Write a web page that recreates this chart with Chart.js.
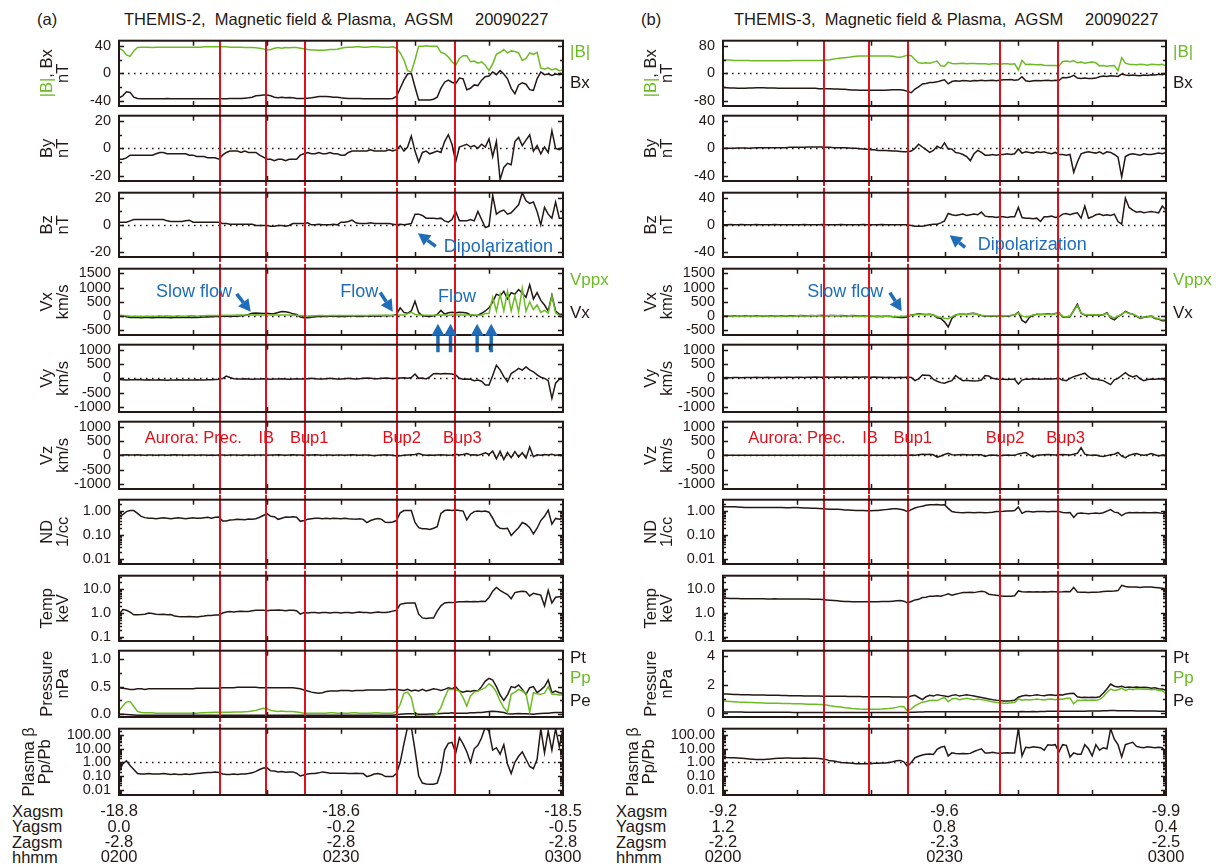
<!DOCTYPE html>
<html>
<head>
<meta charset="utf-8">
<title>THEMIS-2 / THEMIS-3 Magnetic field & Plasma, AGSM 20090227</title>
<script src="https://cdn.jsdelivr.net/npm/chart.js@4.4.1/dist/chart.umd.min.js"></script>
<style>
  html, body { margin: 0; padding: 0; background: #fff; }
  #page { position: relative; width: 1219px; height: 867px; overflow: hidden;
          font-family: "Liberation Sans", Arial, sans-serif; color: #231815; }
  #page canvas { position: absolute; }
  .txt { position: absolute; font-size: 16.5px; white-space: pre; line-height: 20px; }
  .rows { position: absolute; font-size: 16.5px; line-height: 15.3px; white-space: pre; }
</style>
</head>
<body>
<div id="page">
  <div class="txt" style="left:37px;top:9px">(a)</div>
  <div class="txt" style="left:124px;top:9px">THEMIS-2,  Magnetic field &amp; Plasma,  AGSM</div>
  <div class="txt" style="left:475px;top:9px">20090227</div>
  <div class="txt" style="left:641px;top:9px">(b)</div>
  <div class="txt" style="left:734px;top:9px">THEMIS-3,  Magnetic field &amp; Plasma,  AGSM</div>
  <div class="txt" style="left:1085px;top:9px">20090227</div>
  <div class="rows" style="left:12px;top:804px">Xagsm<br>Yagsm<br>Zagsm<br>hhmm</div>
  <div class="rows" style="left:616px;top:804px">Xagsm<br>Yagsm<br>Zagsm<br>hhmm</div>
</div>
<script>
// minutes after 02:00 UT, one sample every 30 s
const TIME = [];
for (let i = 0; i <= 120; i++) TIME.push(i / 2);

// aurora events (minutes after 02:00): Prec., IB, Bup1, Bup2, Bup3
const EVENT_MIN = [13.7, 19.8, 25.1, 37.5, 45.4];
const HOUR_TICKS = [0, 10, 20, 30, 40, 50, 60];
const LABEL_MIN = [0, 30, 60];
const HHMM = ['0200', '0230', '0300'];

// orbit positions at 0200 / 0230 / 0300
const A_XAGSM = ['-18.8', '-18.6', '-18.5'];
const A_YAGSM = ['0.0', '-0.2', '-0.5'];
const A_ZAGSM = ['-2.8', '-2.8', '-2.8'];
const B_XAGSM = ['-9.2', '-9.6', '-9.9'];
const B_YAGSM = ['1.2', '0.8', '0.4'];
const B_ZAGSM = ['-2.2', '-2.3', '-2.5'];

// ---------- THEMIS-2 (a) ----------
const A_BT = [37, 34, 27, 25, 33, 38, 38.5, 38.5, 38.5, 38, 38.5, 38.5, 38.5, 38.5, 38.5, 38.5, 38.5, 38.5, 38.5, 38.5,
  38.5, 38.5, 38.5, 39, 39, 39, 39, 39, 39, 39, 38.5, 38.5, 38.5, 38.5, 38, 38, 38, 37.5, 37, 36,
  34.5, 35, 37, 38, 37, 38, 37.5, 38, 38, 37, 36, 35, 34.5, 34.5, 34, 34, 34.5, 35, 35, 35.5,
  37, 38, 38.5, 38.5, 39, 39, 38.5, 38.5, 39, 39, 39, 38.5, 38.5, 38.5, 39, 37, 30, 20, 4, 2,
  20, 40, 40, 40.5, 40, 40, 40, 31, 29, 24, 17, 12, 22, 26, 26, 17, 18, 15, 17, 12,
  4, 14, 28, 31, 35, 30, 33, 32, 30, 19, 22, 30, 28, 31, 8, 6, 8, 5, 7, 4,
  5];
const A_BX = [-36, -33, -27, -28, -35, -37, -37.5, -37.5, -37.5, -37.5, -37.5, -37.5, -37.5, -37, -37.5, -37.5, -37.5, -37.5, -37.5, -37.5,
  -37.5, -37.5, -37.5, -37.5, -37.5, -37.5, -37.5, -37.5, -37.5, -37.5, -37, -37, -37, -37, -36.5, -36, -35, -33, -32.5, -32,
  -32, -33, -35, -36, -35, -36, -35.5, -36, -37, -37, -37, -36.5, -36, -35, -34, -34, -34, -34.5, -35, -35,
  -36, -36.5, -37, -37, -37, -37, -37.5, -37.5, -37.5, -37.5, -37.5, -37.5, -37.5, -37.5, -37, -34, -22, -10, -1, 0,
  -20, -39, -39, -39, -39, -38, -35, -22, -13, -10, -13, -15, -7, -8, -24, -22, -17, -18, -10, -5,
  -4, 2, -2, 4, -1, -8, -22, -30, -17, -14, -16, -24, -25, -8, 2, -2, -1, -3, -1, -2,
  -1];
const A_BY = [-8, -8, -7, -5, -5, -5, -5, -5, -5, -5, -4, -3, -3, -4, -4, -4, -4, -4, -4, -5,
  -5, -6, -6, -6, -7, -7, -7, -8, -5, -3, -2, -2, -2, -3, -2, -3, -3, -3, -5, -6.5,
  -8, -8, -9, -8, -8, -9, -8, -8, -8, -5, -4, -3, -4, -4, -3, -4, -4, -3, -4, -4,
  -5, -5, -3, -2, -2, -2, -2, -2, -1, -2, -2, -2, -2, -1, -2, -1, 2, -2, 1, 9,
  -2, -10, -3, -2, -4, -3, -2, -3, 5, 10, 3, -10, 1, 2, 3, 1, 2, 0, 3, 1,
  7, -6, 5, -23, -14, -11, -12, 5, 8, 2, 6, 10, -2, 2, -4, 1, -3, 13, 0, -1,
  1];
const A_BZ = [2, 2, 2, 3, 4, 4, 4, 4, 4, 4, 4, 4, 4, 3, 2.5, 2.5, 2.5, 2.5, 3, 3.5,
  2, 2, 2, 2, 2, 2, 2, 2, 1, 1, 0.5, 0.5, 0.5, 0.5, 0.5, 0.5, 0.5, -0.5, -0.5, -0.5,
  -0.5, -1, -1, -0.5, -0.5, -1, -0.5, 1, 1, 1, 1, 1.5, 0, 0, 0.5, 0, 0, 0, 0.5, 0,
  2, 2, 2.5, 3.5, 1.5, 1, 1, 1, 1.5, 1, 1, 1, 1, 1, 0.5, 0, 0.5, 0, 0.5, 1,
  8, 8, 7, 5, 5, 5, 4.5, 5, 3, 2, 4, 10, 3, 3, 3, 4, 3, 10, 4, -2,
  -1, 22, 8, 10, 11, 8, 9, 12, 15, 24, 18, 16, 17, 10, 0, 13, 8, 5, 17, 5,
  5];
const A_VX = [20, 10, -20, -50, -50, -50, -60, -50, -50, -60, -50, -50, -40, -50, -60, -50, -50, -50, -40, -50,
  -40, -50, -40, -30, -30, -20, -10, -10, 0, 0, -10, 0, 0, 10, 20, 60, 100, 110, 100, 90,
  100, 80, 90, 130, 160, 150, 130, 80, 60, -30, -60, -60, -40, -20, -10, 0, -10, 0, 0, -10,
  0, -10, 0, 10, 0, -10, 0, 10, 0, 10, 0, 10, 20, 10, 20, 60, 290, 130, 100, 180,
  520, 120, 20, 0, -10, 10, 60, 200, 70, 120, 140, 120, 140, 130, 110, 40, 20, 30, 100, 180,
  290, 500, 770, 710, 870, 600, 820, 770, 930, 800, 660, 1100, 600, 820, 550, 390, 180, 730, 180, 75,
  60];
const A_VPX = [20, 20, 10, 0, 0, 0, -10, 0, 0, 0, 0, 10, 0, 10, 0, 0, 10, 0, 0, 10,
  10, 0, 10, 10, 20, 20, 20, 20, 30, 30, 30, 30, 40, 40, 40, 40, 40, 50, 40, 40,
  40, 40, 40, 40, 40, 40, 40, 30, 30, 20, 10, 0, 10, 10, 20, 20, 10, 20, 20, 20,
  20, 20, 20, 20, 20, 20, 20, 20, 30, 30, 30, 30, 30, 30, 30, 30, 40, 40, 80, 130,
  60, 40, 40, 30, 30, 30, 40, 40, 40, 30, 40, 40, 40, 40, 40, 40, 40, 30, 40, 90,
  90, 660, 180, 770, 180, 870, 180, 710, 150, 980, 170, 500, 230, 390, 130, 200, 110, 700, 120, 20,
  20];
const A_VY = [-40, -50, -60, -50, -50, -40, -50, -60, -50, -60, -60, -50, -60, -70, -60, -60, -50, -60, -60, -60,
  -60, -50, -60, -60, -50, -50, -40, -30, -10, 80, 30, -10, -20, -20, -10, -20, -30, -20, -20, -10,
  -20, -30, -20, -20, -10, -20, -30, -20, -10, -20, -20, -10, 0, -10, -20, -20, -10, 0, -10, -20,
  -20, -10, 0, -10, -20, -10, 0, 10, 0, -10, -10, 0, 10, 0, -10, 0, 10, 20, 0, 30,
  150, 0, 10, -20, 50, 160, 170, 150, 170, 160, 150, 120, 0, -30, -20, -30, -80, -60, -100, -230,
  -230, 100, 460, 300, 60, -120, 170, 250, 350, 290, 400, 300, 230, 120, 40, 0, -80, -700, -170, -30,
  -20];
const A_VZ = [0, 10, 20, 10, 10, 20, 10, 0, 10, 10, 0, 10, 10, 0, 10, 20, 10, 10, 0, 10,
  10, 0, 10, 10, 0, 10, 0, 10, 10, 0, 10, 10, 10, 0, 10, 10, 0, 10, 10, 10,
  0, 10, 10, 20, 10, 0, 10, 20, 10, 10, 0, 10, 10, 20, 10, 0, 10, 10, 0, 10,
  10, 0, 10, 20, 10, 0, 10, 10, 0, -10, 0, 10, 20, 10, 0, -20, -10, 0, 10, 20,
  30, 60, 20, 0, 10, 0, 10, 20, 10, 0, 10, 40, 10, 30, 60, 10, 20, 0, 40, 90,
  30, 150, -120, 140, -150, 100, -80, 130, -60, 90, -100, 290, -50, 20, 0, 30, 10, 40, 0, 20,
  10];
const A_ND = [0.56, 0.7, 0.95, 1.05, 1.05, 0.8, 0.6, 0.53, 0.5, 0.5, 0.48, 0.5, 0.52, 0.5, 0.48, 0.5, 0.52, 0.5, 0.48, 0.5,
  0.52, 0.5, 0.5, 0.53, 0.55, 0.5, 0.55, 0.56, 0.38, 0.38, 0.42, 0.43, 0.45, 0.44, 0.43, 0.46, 0.45, 0.48, 0.55, 0.65,
  0.78, 0.6, 0.58, 0.45, 0.5, 0.56, 0.55, 0.58, 0.55, 0.37, 0.4, 0.45, 0.48, 0.5, 0.5, 0.48, 0.5, 0.48, 0.5, 0.49,
  0.48, 0.5, 0.48, 0.47, 0.45, 0.48, 0.45, 0.33, 0.4, 0.45, 0.49, 0.45, 0.34, 0.33, 0.35, 0.4, 0.85, 1.05, 1.05, 1.05,
  0.33, 0.2, 0.18, 0.18, 0.17, 0.19, 0.22, 0.8, 1.05, 1.1, 1.05, 1.1, 1.05, 1.0, 0.43, 0.74, 0.95, 1.0, 0.95, 1.0,
  0.9, 0.5, 0.25, 0.19, 0.18, 0.19, 0.095, 0.14, 0.2, 0.33, 0.28, 0.2, 0.11, 0.19, 0.4, 0.6, 1.1, 0.28, 0.49, 0.45,
  0.5];
const A_TEMP = [0.87, 1.4, 1.3, 1.1, 0.85, 0.85, 0.87, 0.9, 1.0, 0.95, 0.9, 0.88, 0.9, 0.85, 0.87, 0.75, 0.72, 0.7, 0.7, 0.72,
  0.7, 0.68, 0.72, 0.75, 0.8, 0.8, 0.83, 0.83, 1.0, 1.1, 1.15, 1.1, 1.15, 1.2, 1.15, 1.15, 1.25, 1.3, 1.3, 1.3,
  1.25, 1.3, 1.3, 1.35, 1.3, 1.25, 1.3, 1.3, 1.25, 0.9, 1.05, 1.0, 1.05, 1.05, 1.0, 1.05, 1.05, 1.0, 1.05, 1.05,
  1.0, 1.05, 1.05, 1.0, 1.05, 1.1, 1.05, 1.05, 1.0, 1.05, 1.1, 1.05, 1.05, 1.1, 1.2, 1.3, 2.3, 2.5, 2.6, 2.6,
  2.6, 0.9, 0.63, 0.6, 0.63, 0.62, 1.2, 2.0, 2.6, 2.7, 2.7, 2.8, 2.9, 2.9, 3.0, 2.9, 3.0, 2.95, 3.1, 3.0,
  4.4, 8.0, 11.4, 8.7, 7.0, 5.8, 3.9, 7.0, 7.6, 8.0, 7.6, 5.1, 6.6, 6.0, 5.5, 2.0, 8.7, 2.6, 4.5, 4.7,
  4.7];
const A_PT = [0.48, 0.47, 0.46, 0.45, 0.45, 0.46, 0.46, 0.45, 0.46, 0.46, 0.46, 0.46, 0.46, 0.46, 0.46, 0.46, 0.46, 0.46, 0.46, 0.46,
  0.46, 0.47, 0.47, 0.47, 0.47, 0.47, 0.47, 0.47, 0.48, 0.48, 0.48, 0.48, 0.49, 0.49, 0.49, 0.49, 0.49, 0.49, 0.48, 0.48,
  0.48, 0.48, 0.48, 0.48, 0.48, 0.48, 0.48, 0.48, 0.47, 0.46, 0.44, 0.42, 0.4, 0.39, 0.38, 0.39, 0.41, 0.42, 0.42, 0.42,
  0.43, 0.43, 0.43, 0.42, 0.43, 0.43, 0.43, 0.44, 0.44, 0.44, 0.44, 0.44, 0.44, 0.45, 0.45, 0.45, 0.44, 0.43, 0.45, 0.42,
  0.44, 0.42, 0.45, 0.42, 0.44, 0.46, 0.45, 0.43, 0.45, 0.48, 0.46, 0.5, 0.42, 0.4, 0.42, 0.41, 0.43, 0.42, 0.5, 0.6,
  0.65, 0.62, 0.5, 0.35, 0.25, 0.35, 0.5, 0.48, 0.53, 0.45, 0.36, 0.48, 0.5, 0.39, 0.44, 0.5, 0.62, 0.39, 0.42, 0.39,
  0.38];
const A_PP = [0.06, 0.15, 0.22, 0.23, 0.14, 0.05, 0.03, 0.025, 0.025, 0.025, 0.02, 0.02, 0.02, 0.02, 0.02, 0.02, 0.02, 0.02, 0.02, 0.02,
  0.02, 0.02, 0.025, 0.025, 0.03, 0.03, 0.035, 0.035, 0.035, 0.035, 0.035, 0.04, 0.04, 0.04, 0.045, 0.05, 0.06, 0.07, 0.09, 0.11,
  0.1, 0.07, 0.06, 0.05, 0.06, 0.05, 0.05, 0.05, 0.04, 0.03, 0.02, 0.02, 0.02, 0.02, 0.02, 0.02, 0.02, 0.025, 0.025, 0.02,
  0.02, 0.02, 0.02, 0.025, 0.025, 0.02, 0.02, 0.02, 0.02, 0.025, 0.025, 0.02, 0.02, 0.02, 0.02, 0.05, 0.18, 0.38, 0.4, 0.3,
  0.0, -0.03, -0.03, -0.03, -0.03, -0.03, 0.02, 0.12, 0.3, 0.45, 0.45, 0.44, 0.42, 0.3, 0.15, 0.33, 0.4, 0.42, 0.45, 0.48,
  0.55, 0.5, 0.4, 0.24, 0.12, 0.035, 0.36, 0.4, 0.45, 0.42, 0.38, 0.035, 0.39, 0.37, 0.36, 0.38, 0.5, 0.36, 0.36, 0.35,
  0.35];
const A_PE = [0.0, 0.0, -0.005, -0.01, -0.015, -0.02, -0.02, -0.02, -0.02, -0.02, -0.02, -0.02, -0.02, -0.02, -0.02, -0.02, -0.02, -0.02, -0.02, -0.02,
  -0.02, -0.02, -0.02, -0.02, -0.02, -0.02, -0.02, -0.02, -0.02, -0.02, -0.02, -0.02, -0.02, -0.02, -0.02, -0.02, -0.02, -0.02, -0.02, -0.02,
  -0.02, -0.02, -0.02, -0.02, -0.02, -0.02, -0.02, -0.02, -0.02, -0.02, -0.02, -0.02, -0.02, -0.02, -0.02, -0.02, -0.02, -0.02, -0.02, -0.02,
  -0.02, -0.02, -0.02, -0.02, -0.02, -0.02, -0.02, -0.02, -0.02, -0.02, -0.02, -0.02, -0.02, -0.02, -0.02, -0.01, 0.0, 0.005, 0.01, 0.01,
  0.01, 0.0, 0.0, 0.0, 0.005, 0.005, 0.01, 0.015, 0.02, 0.02, 0.025, 0.02, 0.02, 0.02, 0.02, 0.025, 0.025, 0.03, 0.03, 0.04,
  0.05, 0.055, 0.05, 0.04, 0.03, 0.01, 0.005, 0.01, 0.015, 0.01, 0.01, 0.005, 0.0, 0.01, 0.015, 0.02, 0.02, 0.025, 0.03, 0.03,
  0.03];
const A_BETA = [0.2, 0.76, 1.3, 0.6, 0.3, 0.15, 0.14, 0.14, 0.15, 0.14, 0.14, 0.14, 0.15, 0.14, 0.13, 0.14, 0.13, 0.13, 0.14, 0.13,
  0.14, 0.15, 0.16, 0.17, 0.18, 0.18, 0.2, 0.18, 0.14, 0.13, 0.13, 0.14, 0.13, 0.14, 0.14, 0.15, 0.17, 0.22, 0.3, 0.38,
  0.4, 0.24, 0.23, 0.2, 0.21, 0.19, 0.2, 0.2, 0.16, 0.1, 0.12, 0.14, 0.15, 0.15, 0.17, 0.2, 0.18, 0.16, 0.16, 0.16,
  0.16, 0.16, 0.15, 0.15, 0.16, 0.15, 0.15, 0.09, 0.11, 0.14, 0.15, 0.13, 0.09, 0.09, 0.09, 0.15, 1.0, 23, 400, 400,
  8, 0.1, 0.03, 0.026, 0.025, 0.025, 0.03, 0.2, 8, 25, 30, 4.8, 65, 23, 6, 1.0, 10, 18, 65, 400,
  200, 8, 12, 4, 20, 0.76, 0.15, 1.0, 2.8, 6, 1.7, 0.5, 0.34, 1.7, 300, 5, 200, 8, 300, 14,
  300];

// ---------- THEMIS-3 (b) ----------
const B_BT = [40, 39, 39, 38, 38, 38, 38, 38, 37, 37, 37, 37, 37, 37, 37, 37, 37, 37, 37, 37.5,
  37.5, 38, 38, 38, 38, 38, 38, 38, 39, 40, 42, 44, 45, 46, 47, 49, 50, 51, 51, 51,
  51, 51, 51, 51, 51, 51, 50, 48, 47, 50, 54, 52, 40, 31, 30, 31, 30, 33, 36, 22,
  21, 33, 29, 28, 29, 30, 28, 29, 29, 28, 28, 28, 27, 28, 28, 27, 28, 28, 27, 28,
  10, 38, 26, 27, 26, 25, 26, 24, 23, 23, 23, 22, 35, 36, 34, 37, 31, 33, 30, 32,
  33, 31, 22, 23, 21, 22, 23, 8, 46, 30, 27, 26, 25, 27, 26, 24, 27, 26, 25, 27,
  21];
const B_BX = [-41, -42, -43, -43, -44, -44, -44, -43, -43, -42, -42, -42, -43, -43, -43, -44, -44, -44, -44, -44,
  -44, -44, -44, -44, -44, -44, -45, -45, -45, -45, -46, -46, -47, -47, -48, -49, -49, -50, -50, -50,
  -50, -50, -50, -50, -50, -49, -48, -48, -48, -50, -53, -57, -46, -40, -31, -30, -27, -27, -25, -22,
  -19, -31, -24, -22, -23, -21, -22, -23, -21, -22, -20, -22, -21, -20, -22, -20, -19, -19, -18, -20,
  -19, -10, -22, -24, -22, -21, -22, -21, -20, -22, -20, -21, -12, -13, -11, -6, -14, -15, -14, -15,
  -15, -14, -10, -8, -9, -7, -8, -9, -2, -5, -6, -5, -6, -7, -5, -6, -4, -5, -3, -4,
  0];
const B_BY = [0, 0, 0, 0, 0.5, 0.5, 0.5, 0, 0.5, 1, 1, 1, 1, 1, 1, 1, 1, 1, 1.5, 1.5,
  1.5, 1.5, 1.5, 2, 2, 2, 2, 2, 1.5, 1.5, 1, 1, 1, 1, 0.5, 0, 0, -0.5, -1, -1.5,
  -2, -2, -3, -3, -3, -3.5, -4, -4, -4.5, -5, -5, -4, 0, 6, 2, -2, -6, -3, 3, 0,
  8, -1, -1, -6, -7, -9, -12, -18, -8, -3, -6, -10, -10, -9, -10, -9, -9, -8, -9, -8,
  -1, -7, -5, -6, -7, -5, -6, -5, -7, -8, -6, -9, -9, -10, -9, -35, -20, -8, -6, -5,
  -6, -7, -5, -8, -5, -6, -9, -13, -42, -12, -9, -8, -9, -10, -8, -9, -9, -8, -7, -8,
  -6];
const B_BZ = [0, 0, 0.5, 0, 0, 0.5, 0, 0, 0, 0.5, 0, 0, 0, 0, 0.5, 0, 0, 0, 0, 0,
  0, 0, 0.5, 0, 0, 0, 0, 0.5, 0, 0, 0, 0, 0.5, 0, 0, 0, 0, 0, 0.5, 0,
  0, 0, 0, 0.5, 0, 0, 0, 0, 0, 0, 0, -1, -2, -2, -2, -1, 0, 1, 1, 3,
  6, 17, 15, 14, 15, 16, 14, 15, 16, 15, 19, 13, 12, 12, 11, 12, 12, 11, 12, 12,
  26, 11, 10, 10, 9, 10, 5, 12, 12, 13, 11, 12, 16, 17, 15, 17, 18, 10, 28, 10,
  12, 15, 16, 14, 15, 14, 16, 5, 1, 40, 26, 22, 19, 20, 18, 19, 20, 19, 18, 28,
  22];
const B_VX = [0, 10, 0, 10, 0, 10, 10, 0, 10, 10, 0, 10, 0, 10, 10, 0, 10, 0, 10, 10,
  10, 20, 10, 10, 20, 10, 20, 20, 10, 20, 20, 10, 20, 10, 10, 20, 10, 0, 10, 0,
  0, -10, 0, -10, 0, 0, -20, -30, -50, -50, -20, 40, 60, 80, 70, 60, 70, 40, -60, -80,
  -200, -380, -80, 40, 70, 70, 60, 90, 100, 60, 20, 0, 10, 0, 10, 0, 10, 0, 20, 40,
  140, -150, -230, -40, 30, 70, 60, 70, 80, 60, 90, 120, -30, -30, -20, 200, 420, 100, 40, 30,
  40, 50, 30, 50, 120, -60, -130, -20, 60, 170, 100, 70, 0, -80, -40, -20, 0, -80, -100, -160,
  -160];
const B_VPX = [0, 0, 10, 0, 0, 10, 0, 0, 10, 0, 0, 10, 0, 0, 10, 0, 0, 10, 0, 0,
  10, 10, 0, 10, 10, 10, 10, 0, 10, 10, 10, 10, 10, 0, 10, 10, 0, 0, 0, 0,
  0, 0, 0, -10, 0, 0, -10, -10, -10, 0, 10, 30, 50, 70, 60, 50, 60, 40, -20, -40,
  -70, -90, -20, 40, 60, 70, 60, 80, 90, 60, 30, 10, 10, 10, 10, 0, 10, 10, 20, 40,
  110, 10, -30, 0, 30, 60, 60, 70, 70, 60, 80, 100, -10, -20, 0, 180, 370, 110, 50, 40,
  50, 50, 40, 50, 100, -30, -60, 0, 60, 150, 90, 70, 10, -60, -30, -20, 0, -60, -90, -130,
  -120];
const B_VY = [20, 30, 20, 30, 30, 20, 30, 30, 30, 40, 30, 30, 40, 30, 30, 40, 30, 40, 40, 30,
  40, 40, 30, 40, 40, 50, 40, 40, 50, 40, 40, 50, 40, 50, 40, 40, 50, 40, 50, 50,
  40, 50, 40, 40, 30, 40, 30, 30, 40, 30, 50, 30, -80, -20, 120, 110, 100, -40, -100, -150,
  -170, -120, -80, 100, 0, -80, -70, -80, -90, -80, -60, 100, 80, 0, -20, -30, -30, -40, -30, -30,
  -200, -60, -20, -30, -10, -20, -30, -20, -10, -20, -10, 0, -60, -80, 0, 60, 100, 140, 180, 60,
  -20, -20, -60, -80, -150, -220, -50, 0, 100, 200, 100, 50, 100, -20, -80, -40, -20, -30, -10, -20,
  -80];
const B_VZ = [0, 0, 5, 0, 0, 5, 0, 0, 0, 5, 0, 0, 5, 0, 0, 0, 5, 0, 0, 0,
  0, 5, 0, 0, 0, 5, 0, 0, 5, 0, 0, 0, 5, 0, 0, 5, 0, 0, 0, 5,
  0, 0, 5, 0, 0, 0, 5, 0, 0, 0, 0, 10, 0, 20, 40, 30, 40, 20, -60, -20,
  30, 70, 20, 10, 20, 30, 20, 10, 20, 20, 20, -40, 0, 10, 0, -10, 0, 10, 0, 0,
  50, 70, 100, 20, -60, 0, 10, 20, 30, 20, 10, 20, 30, 20, 10, 40, 70, 270, 40, 10,
  0, 10, -20, -40, -10, 20, 40, 100, -30, -80, 0, 40, 60, 20, 0, 20, 60, 20, -20, 10,
  0];
const B_ND = [1.5, 1.5, 1.52, 1.5, 1.48, 1.45, 1.42, 1.42, 1.42, 1.4, 1.4, 1.42, 1.42, 1.4, 1.4, 1.4, 1.4, 1.38, 1.38, 1.4,
  1.4, 1.38, 1.35, 1.35, 1.32, 1.3, 1.28, 1.25, 1.22, 1.2, 1.2, 1.18, 1.15, 1.12, 1.1, 1.08, 1.05, 1.05, 1.05, 1.02,
  1.02, 1.05, 1.05, 1.1, 1.15, 1.2, 1.25, 1.25, 1.2, 1.1, 0.95, 1.15, 1.35, 1.5, 1.6, 1.75, 1.85, 1.85, 1.9, 1.8,
  1.85, 1.3, 0.95, 0.9, 0.87, 0.85, 0.87, 0.88, 0.85, 0.87, 0.88, 0.86, 0.87, 0.9, 0.95, 0.97, 0.98, 1.0, 1.0, 1.05,
  1.5, 0.8, 0.95, 0.95, 0.92, 0.95, 0.97, 0.95, 0.93, 0.95, 0.97, 0.95, 0.87, 0.85, 0.87, 0.54, 0.8, 0.82, 0.8, 0.78,
  0.8, 0.82, 0.8, 0.85, 1.0, 1.15, 0.9, 0.85, 0.65, 0.8, 0.87, 0.85, 0.88, 0.85, 0.87, 0.86, 0.85, 0.87, 0.85, 0.8,
  0.75];
const B_TEMP = [4.1, 4.1, 4.0, 4.0, 4.0, 3.9, 3.9, 3.9, 3.9, 3.9, 3.9, 3.9, 3.8, 3.8, 3.9, 3.8, 3.8, 3.8, 3.8, 3.8,
  3.8, 3.8, 3.8, 3.8, 3.7, 3.7, 3.7, 3.6, 3.5, 3.4, 3.3, 3.2, 3.1, 3.0, 3.0, 2.9, 2.9, 2.9, 2.9, 2.9,
  2.9, 2.9, 2.9, 3.0, 3.0, 3.0, 3.1, 3.2, 3.3, 3.1, 2.6, 3.0, 3.5, 3.7, 4.4, 4.5, 5.0, 5.0, 5.2, 5.0,
  5.5, 6.2, 5.5, 6.0, 6.5, 7.0, 7.0, 7.2, 7.0, 7.5, 8.0, 7.5, 6.0, 5.7, 5.5, 5.2, 5.0, 5.0, 5.0, 5.2,
  8.2, 7.6, 7.4, 7.6, 7.5, 7.6, 7.4, 7.6, 7.5, 7.7, 7.6, 7.5, 7.6, 7.8, 7.6, 11.5, 7.4, 7.2, 7.3, 7.1,
  7.2, 7.3, 7.5, 7.8, 8.0, 8.0, 8.2, 8.5, 14, 12.5, 12, 12, 12, 11.5, 12, 12, 12, 11.5, 11, 10.5,
  10];
const B_PT = [1.35, 1.34, 1.33, 1.32, 1.31, 1.30, 1.30, 1.29, 1.28, 1.28, 1.27, 1.27, 1.26, 1.26, 1.25, 1.25, 1.24, 1.24, 1.23, 1.23,
  1.22, 1.22, 1.21, 1.21, 1.2, 1.2, 1.2, 1.19, 1.19, 1.19, 1.18, 1.18, 1.18, 1.18, 1.17, 1.17, 1.17, 1.17, 1.16, 1.16,
  1.16, 1.16, 1.16, 1.15, 1.15, 1.15, 1.14, 1.14, 1.14, 1.13, 1.12, 1.2, 1.25, 1.1, 0.95, 1.15, 1.25, 1.2, 1.3, 1.25,
  1.2, 1.15, 1.25, 1.3, 1.2, 1.25, 1.3, 1.25, 1.2, 1.15, 1.1, 1.05, 1.0, 0.95, 0.9, 0.88, 0.85, 0.85, 0.87, 0.9,
  1.12, 1.2, 1.25, 1.22, 1.25, 1.3, 1.25, 1.22, 1.28, 1.3, 1.25, 1.3, 1.28, 1.35, 1.38, 1.4, 1.15, 1.1, 1.12, 1.1,
  1.12, 1.1, 1.15, 1.4, 1.7, 2.05, 1.9, 1.85, 1.9, 1.8, 1.85, 1.8, 1.85, 1.8, 1.82, 1.8, 1.75, 1.78, 1.72, 1.7,
  1.6];
const B_PP = [0.85, 0.84, 0.82, 0.8, 0.78, 0.77, 0.76, 0.75, 0.74, 0.73, 0.72, 0.71, 0.7, 0.7, 0.7, 0.69, 0.68, 0.68, 0.67, 0.66,
  0.66, 0.65, 0.64, 0.63, 0.62, 0.62, 0.61, 0.6, 0.57, 0.52, 0.48, 0.45, 0.42, 0.38, 0.35, 0.32, 0.3, 0.28, 0.27, 0.26,
  0.26, 0.26, 0.27, 0.28, 0.3, 0.32, 0.35, 0.4, 0.47, 0.45, 0.14, 0.3, 0.5, 0.65, 0.77, 0.82, 0.88, 0.9, 0.88, 1.0,
  1.1, 0.8, 1.0, 1.05, 0.95, 1.0, 1.05, 1.0, 0.95, 1.0, 0.95, 0.9, 0.85, 0.8, 0.75, 0.72, 0.7, 0.7, 0.72, 0.75,
  1.0, 0.9, 0.95, 0.92, 0.95, 1.0, 0.95, 0.92, 0.98, 1.0, 0.95, 1.0, 0.98, 1.05, 1.05, 0.65, 0.9, 0.88, 0.92, 0.9,
  0.92, 0.9, 0.95, 1.15, 1.46, 1.7, 1.6, 1.65, 1.75, 1.6, 1.7, 1.65, 1.72, 1.7, 1.68, 1.7, 1.65, 1.68, 1.6, 1.58,
  1.35];
const B_PE = [0.08, 0.08, 0.07, 0.07, 0.07, 0.07, 0.06, 0.06, 0.06, 0.06, 0.06, 0.05, 0.05, 0.05, 0.05, 0.05, 0.05, 0.05, 0.05, 0.04,
  0.04, 0.04, 0.04, 0.04, 0.04, 0.04, 0.04, 0.04, 0.04, 0.04, 0.04, 0.04, 0.04, 0.04, 0.04, 0.04, 0.04, 0.04, 0.04, 0.04,
  0.04, 0.04, 0.04, 0.04, 0.04, 0.04, 0.04, 0.04, 0.04, 0.04, 0.04, 0.05, 0.06, 0.07, 0.08, 0.09, 0.1, 0.1, 0.1, 0.1,
  0.1, 0.1, 0.1, 0.1, 0.1, 0.1, 0.1, 0.1, 0.1, 0.1, 0.1, 0.1, 0.1, 0.1, 0.1, 0.1, 0.1, 0.1, 0.1, 0.1,
  0.1, 0.11, 0.1, 0.1, 0.11, 0.1, 0.11, 0.11, 0.12, 0.12, 0.12, 0.12, 0.13, 0.13, 0.13, 0.12, 0.12, 0.13, 0.13, 0.14,
  0.14, 0.15, 0.15, 0.16, 0.17, 0.18, 0.18, 0.17, 0.17, 0.16, 0.16, 0.16, 0.15, 0.15, 0.15, 0.14, 0.14, 0.14, 0.13, 0.13,
  0.12];
const B_BETA = [2.5, 2.3, 2.2, 2.2, 2.1, 2.0, 1.9, 1.8, 1.7, 1.6, 1.6, 1.6, 1.7, 1.8, 1.9, 2.0, 2.0, 2.1, 2.1, 2.0,
  2.0, 2.0, 2.1, 2.0, 2.0, 2.0, 1.9, 1.8, 1.6, 1.3, 1.25, 1.1, 1.0, 0.95, 0.9, 0.85, 0.8, 0.8, 0.8, 0.8,
  0.8, 0.85, 0.85, 0.9, 0.9, 1.0, 1.1, 1.3, 1.4, 1.1, 0.5, 1.0, 2.2, 2.8, 3.5, 4.0, 4.2, 3.8, 9, 13,
  15, 3, 5, 4.5, 4.4, 4.5, 4.4, 4.6, 6.3, 8, 10, 5, 5, 5.5, 5, 4.8, 5, 5.2, 5, 5,
  300, 3, 13, 12, 14, 13, 12, 8, 20, 18, 20, 6, 20, 18, 2.5, 5, 4, 4, 20, 10,
  3, 20, 8, 12, 10, 300, 50, 20, 2.5, 20, 25, 30, 15, 13, 12, 14, 13, 12, 13, 12,
  5];

// ---------- drawing ----------
const INK = '#231815';
const GREEN = '#6cbb24';
const RED = '#e0101b';
const BLUE = '#1f6db8';
const FONT = '"Liberation Sans", Arial, sans-serif';

// panel frames (page pixels), same for both columns
const P_TOP = [38, 113, 190, 266, 342, 419, 497, 573, 648, 726];
const P_BOT = [106, 181, 257, 335, 412, 489, 564, 641, 717, 795];
const COLS = [{ x0: 0, padRight: 52 }, { x0: 604, padRight: 53 }];
const CANVAS_W = 615, AXIS_W = 119, PAD_TOP = 14, PAD_BOT = 22, X_AXIS_H = 70;

function logTicks(lo, hi) {
  const out = [];
  for (let e = -3; e <= 3; e++) {
    for (let m = 1; m <= 9; m++) {
      const v = +(m * Math.pow(10, e)).toPrecision(3);
      if (v > lo && v < hi) out.push(v);
    }
  }
  return out;
}

const bTitle = [[['|B|', GREEN], [', Bx', INK]], [['nT', INK]]];
const eventNotes = [
  { t: 16.6, f: 0.25, text: 'Aurora: Prec.', color: RED, align: 'right' },
  { t: 19.9, f: 0.25, text: 'IB', color: RED, align: 'center' },
  { t: 25.7, f: 0.25, text: 'Bup1', color: RED, align: 'center' },
  { t: 38.2, f: 0.25, text: 'Bup2', color: RED, align: 'center' },
  { t: 46.4, f: 0.25, text: 'Bup3', color: RED, align: 'center' }
];

function columnPanels(c) {
  const a = c === 0;
  const D = a
    ? { bt: A_BT, bx: A_BX, by: A_BY, bz: A_BZ, vx: A_VX, vpx: A_VPX, vy: A_VY, vz: A_VZ, nd: A_ND, t: A_TEMP, pt: A_PT, pp: A_PP, pe: A_PE, beta: A_BETA }
    : { bt: B_BT, bx: B_BX, by: B_BY, bz: B_BZ, vx: B_VX, vpx: B_VPX, vy: B_VY, vz: B_VZ, nd: B_ND, t: B_TEMP, pt: B_PT, pp: B_PP, pe: B_PE, beta: B_BETA };
  const bm = a ? 40 : 80, cm = a ? 20 : 40;
  return [
    { title: bTitle, min: -bm * 1.2, max: bm * 1.2, ticks: [-bm, -bm / 2, 0, bm / 2, bm], labels: [-bm, 0, bm], ref: 0,
      series: [[D.bt, GREEN], [D.bx, INK]], side: [['|B|', GREEN, 0.18], ['Bx', INK, 0.66]] },
    { title: [[['By', INK]], [['nT', INK]]], min: -cm * 1.2, max: cm * 1.2, ticks: [-cm, -cm / 2, 0, cm / 2, cm], labels: [-cm, 0, cm], ref: 0,
      series: [[D.by, INK]] },
    { title: [[['Bz', INK]], [['nT', INK]]], min: -cm * 1.2, max: cm * 1.2, ticks: [-cm, -cm / 2, 0, cm / 2, cm], labels: [-cm, 0, cm], ref: 0,
      series: [[D.bz, INK]],
      notes: a
        ? [{ t: 43.9, f: 0.85, text: 'Dipolarization', color: BLUE, align: 'left', size: 18 },
           { arrow: true, t1: 42.8, f1: 0.836, t2: 40.4, f2: 0.63 }]
        : [{ t: 34.5, f: 0.81, text: 'Dipolarization', color: BLUE, align: 'left', size: 18 },
           { arrow: true, t1: 32.8, f1: 0.85, t2: 30.7, f2: 0.66 }] },
    { title: [[['Vx', INK]], [['km/s', INK]]], min: -660, max: 1660, ticks: [-500, 0, 500, 1000, 1500], labels: [-500, 0, 500, 1000, 1500], ref: 0,
      series: [[D.vpx, GREEN], [D.vx, INK]], side: [['Vppx', GREEN, 0.17], ['Vx', INK, 0.68]],
      notes: a
        ? [{ t: 5.0, f: 0.35, text: 'Slow flow', color: BLUE, align: 'left', size: 18 },
           { arrow: true, t1: 15.9, f1: 0.38, t2: 17.8, f2: 0.65 },
           { t: 29.9, f: 0.35, text: 'Flow', color: BLUE, align: 'left', size: 18 },
           { arrow: true, t1: 35.3, f1: 0.36, t2: 37.0, f2: 0.65 },
           { t: 43.1, f: 0.42, text: 'Flow', color: BLUE, align: 'left', size: 18 },
           { arrow: true, t1: 43.1, f1: 1.26, t2: 43.1, f2: 0.83 },
           { arrow: true, t1: 44.8, f1: 1.26, t2: 44.8, f2: 0.83 },
           { arrow: true, t1: 48.4, f1: 1.26, t2: 48.4, f2: 0.83 },
           { arrow: true, t1: 50.3, f1: 1.26, t2: 50.3, f2: 0.83 }]
        : [{ t: 11.4, f: 0.35, text: 'Slow flow', color: BLUE, align: 'left', size: 18 },
           { arrow: true, t1: 22.6, f1: 0.36, t2: 24.2, f2: 0.64 }] },
    { title: [[['Vy', INK]], [['km/s', INK]]], min: -1180, max: 1180, ticks: [-1000, -500, 0, 500, 1000], labels: [-1000, -500, 0, 500, 1000], ref: 0,
      series: [[D.vy, INK]] },
    { title: [[['Vz', INK]], [['km/s', INK]]], min: -1180, max: 1180, ticks: [-1000, -500, 0, 500, 1000], labels: [-1000, -500, 0, 500, 1000], ref: 0,
      series: [[D.vz, INK]], notes: eventNotes },
    { title: [[['ND', INK]], [['1/cc', INK]]], log: true, min: 0.006, max: 3, ticks: logTicks(0.006, 3), labels: [0.01, 0.1, 1], dec: 2,
      series: [[D.nd, INK]] },
    { title: [[['Temp', INK]], [['keV', INK]]], log: true, min: 0.07, max: 35, ticks: logTicks(0.07, 35), labels: [0.1, 1, 10], dec: 1,
      series: [[D.t, INK]] },
    a
      ? { title: [[['Pressure', INK]], [['nPa', INK]]], min: -0.05, max: 1.15, ticks: [0, 0.25, 0.5, 0.75, 1], labels: [0, 0.5, 1], dec: 1,
          series: [[D.pp, GREEN], [D.pt, INK], [D.pe, INK]], side: [['Pt', INK, 0.12], ['Pp', GREEN, 0.42], ['Pe', INK, 0.77]] }
      : { title: [[['Pressure', INK]], [['nPa', INK]]], min: -0.28, max: 4.41, ticks: [0, 1, 2, 3, 4], labels: [0, 2, 4], dec: 0,
          series: [[D.pp, GREEN], [D.pt, INK], [D.pe, INK]], side: [['Pt', INK, 0.12], ['Pp', GREEN, 0.42], ['Pe', INK, 0.77]] },
    { title: [[['Plasma \u03b2', INK]], [['Pp/Pb', INK]]], log: true, min: 0.004, max: 300, ticks: logTicks(0.004, 300), labels: [0.01, 0.1, 1, 10, 100], dec: 2, ref: 1,
      titleOff: [90, 74], series: [[D.beta, INK]],
      xLabels: a ? [A_XAGSM, A_YAGSM, A_ZAGSM, HHMM] : [B_XAGSM, B_YAGSM, B_ZAGSM, HHMM] }
  ];
}

function drawArrow(ctx, x1, y1, x2, y2) {
  const ang = Math.atan2(y2 - y1, x2 - x1);
  const head = 12, half = 6.5;
  const bx = x2 - head * Math.cos(ang), by = y2 - head * Math.sin(ang);
  ctx.strokeStyle = BLUE;
  ctx.fillStyle = BLUE;
  ctx.lineWidth = 3.5;
  ctx.beginPath();
  ctx.moveTo(x1, y1);
  ctx.lineTo(bx, by);
  ctx.stroke();
  ctx.beginPath();
  ctx.moveTo(x2, y2);
  ctx.lineTo(bx + half * Math.sin(ang), by - half * Math.cos(ang));
  ctx.lineTo(bx - half * Math.sin(ang), by + half * Math.cos(ang));
  ctx.closePath();
  ctx.fill();
}

function makeDecor(p, isFirst, isLast) {
  return {
    id: 'decor',
    beforeDatasetsDraw(chart) {
      if (p.ref === undefined) return;
      const { ctx, chartArea: ca, scales: { y } } = chart;
      const py = Math.round(y.getPixelForValue(p.ref)) + 0.5;
      ctx.save();
      ctx.strokeStyle = INK;
      ctx.lineWidth = 1.6;
      ctx.setLineDash([1.6, 4.4]);
      ctx.beginPath();
      ctx.moveTo(ca.left + 3, py);
      ctx.lineTo(ca.right, py);
      ctx.stroke();
      ctx.restore();
    },
    afterDatasetsDraw(chart) {
      const { ctx, chartArea: ca, scales: { x, y } } = chart;
      const h = ca.bottom - ca.top;
      ctx.save();
      // aurora event lines
      ctx.strokeStyle = RED;
      ctx.lineWidth = 2;
      EVENT_MIN.forEach(t => {
        const px = Math.round(x.getPixelForValue(t));
        ctx.beginPath();
        ctx.moveTo(px, ca.top - (isFirst ? 0 : 5));
        ctx.lineTo(px, ca.bottom + (isLast ? 0 : 5));
        ctx.stroke();
      });
      // frame
      ctx.strokeStyle = INK;
      ctx.lineWidth = 2;
      ctx.strokeRect(ca.left, ca.top, ca.right - ca.left, h);
      // inward tick marks
      ctx.lineWidth = 1.5;
      ctx.beginPath();
      y.ticks.forEach(tk => {
        const py = Math.round(y.getPixelForValue(tk.value)) + 0.5;
        const len = tk.label ? 5 : 3;
        ctx.moveTo(ca.left, py); ctx.lineTo(ca.left + len, py);
        ctx.moveTo(ca.right, py); ctx.lineTo(ca.right - len, py);
      });
      x.ticks.forEach(tk => {
        if (tk.value <= 0 || tk.value >= 60) return;
        const px = Math.round(x.getPixelForValue(tk.value)) + 0.5;
        ctx.moveTo(px, ca.top); ctx.lineTo(px, ca.top + 5);
        ctx.moveTo(px, ca.bottom); ctx.lineTo(px, ca.bottom - 5);
      });
      ctx.stroke();
      // annotations
      (p.notes || []).forEach(n => {
        if (n.arrow) {
          drawArrow(ctx, x.getPixelForValue(n.t1), ca.top + n.f1 * h, x.getPixelForValue(n.t2), ca.top + n.f2 * h);
          return;
        }
        ctx.font = (n.size || 16.5) + 'px ' + FONT;
        ctx.fillStyle = n.color;
        ctx.textAlign = n.align;
        ctx.textBaseline = 'middle';
        ctx.fillText(n.text, x.getPixelForValue(n.t), ca.top + n.f * h);
      });
      ctx.restore();
    },
    afterDraw(chart) {
      const { ctx, chartArea: ca } = chart;
      const h = ca.bottom - ca.top;
      const cy = ca.top + h / 2;
      const off = p.titleOff || [72, 56];
      ctx.save();
      ctx.font = '16.5px ' + FONT;
      ctx.textBaseline = 'middle';
      ctx.textAlign = 'left';
      p.title.forEach((line, i) => {
        const total = line.reduce((s, part) => s + ctx.measureText(part[0]).width, 0);
        ctx.save();
        ctx.translate(ca.left - off[i], cy);
        ctx.rotate(-Math.PI / 2);
        let cx = -total / 2;
        line.forEach(part => {
          ctx.fillStyle = part[1];
          ctx.fillText(part[0], cx, 0);
          cx += ctx.measureText(part[0]).width;
        });
        ctx.restore();
      });
      ctx.font = '17px ' + FONT;
      (p.side || []).forEach(s => {
        ctx.fillStyle = s[1];
        ctx.fillText(s[0], ca.right + 7, ca.top + s[2] * h);
      });
      ctx.restore();
    }
  };
}

function isLabeled(p, v) {
  return p.labels.some(l => p.log ? Math.abs(Math.log10(l) - Math.log10(v)) < 1e-6 : Math.abs(l - v) < 1e-9);
}

const page = document.getElementById('page');
COLS.forEach((col, c) => {
  columnPanels(c).forEach((p, i) => {
    const isLast = i === P_TOP.length - 1;
    const extraBot = isLast ? X_AXIS_H + 2 : PAD_BOT;
    const cv = document.createElement('canvas');
    const hgt = P_BOT[i] - P_TOP[i] + PAD_TOP + extraBot;
    cv.width = CANVAS_W;
    cv.height = hgt;
    cv.style.left = col.x0 + 'px';
    cv.style.top = (P_TOP[i] - PAD_TOP) + 'px';
    cv.style.width = CANVAS_W + 'px';
    cv.style.height = hgt + 'px';
    page.appendChild(cv);

    new Chart(cv, {
      type: 'line',
      data: {
        labels: TIME,
        datasets: p.series.map(s => ({ data: s[0], borderColor: s[1], borderWidth: 1.5, pointRadius: 0, tension: 0, fill: false }))
      },
      options: {
        responsive: false,
        animation: false,
        events: [],
        layout: { padding: { top: PAD_TOP, bottom: isLast ? 2 : PAD_BOT, left: 0, right: col.padRight } },
        plugins: { legend: { display: false }, tooltip: { enabled: false } },
        scales: {
          x: {
            type: 'linear', min: 0, max: 60, display: isLast,
            grid: { display: false, drawTicks: false }, border: { display: false },
            afterBuildTicks: s => { s.ticks = HOUR_TICKS.map(v => ({ value: v })); },
            afterFit: s => { s.height = isLast ? X_AXIS_H : 0; },
            ticks: {
              autoSkip: false, maxRotation: 0, padding: 9, color: INK,
              font: { family: FONT, size: 16.5, lineHeight: 0.93 },
              callback: v => {
                const k = LABEL_MIN.indexOf(v);
                if (k < 0 || !p.xLabels) return '';
                return p.xLabels.map(row => row[k]);
              }
            }
          },
          y: {
            type: p.log ? 'logarithmic' : 'linear', min: p.min, max: p.max,
            grid: { display: false, drawTicks: false }, border: { display: false },
            afterBuildTicks: s => { s.ticks = p.ticks.map(v => ({ value: v })); },
            afterFit: s => { s.width = AXIS_W; },
            ticks: {
              autoSkip: false, padding: 8, color: INK,
              font: { family: FONT, size: 14.5 },
              callback: v => isLabeled(p, v) ? (p.dec !== undefined ? v.toFixed(p.dec) : String(v)) : ''
            }
          }
        }
      },
      plugins: [makeDecor(p, i === 0, isLast)]
    });
  });
});
</script>
</body>
</html>
